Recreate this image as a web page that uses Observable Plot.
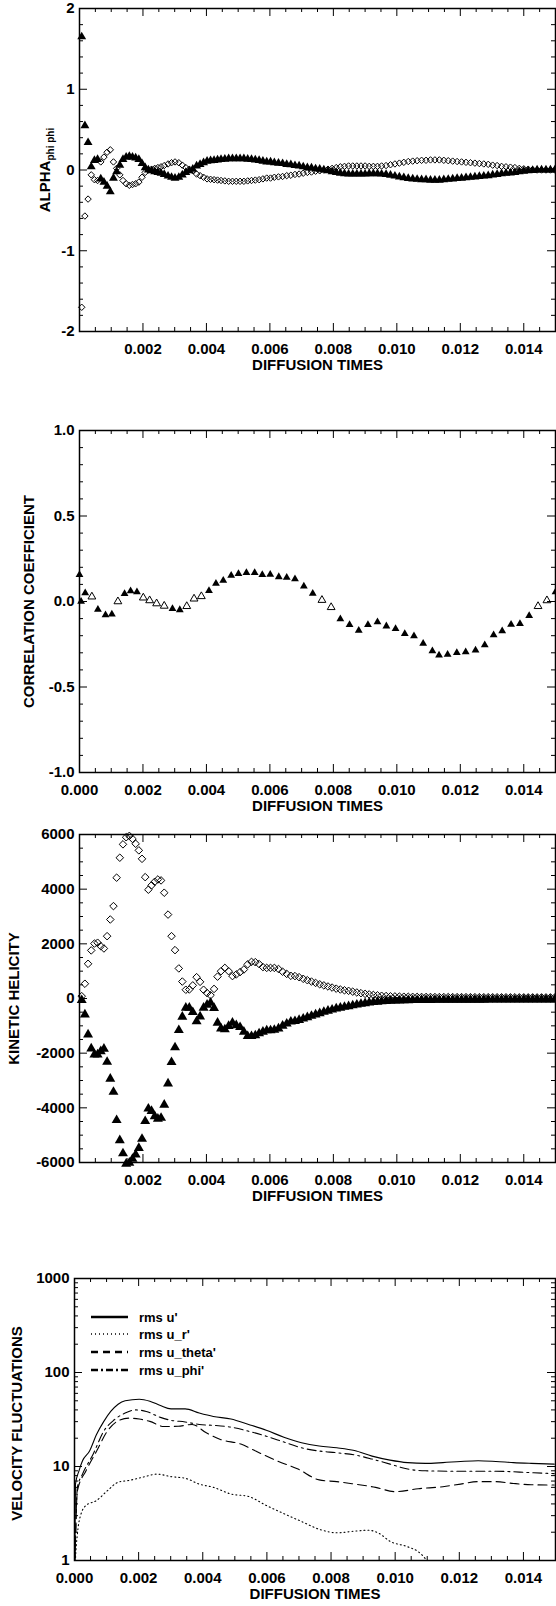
<!DOCTYPE html>
<html><head><meta charset="utf-8">
<script src="https://cdn.jsdelivr.net/npm/d3@7"></script>
<script src="https://cdn.jsdelivr.net/npm/@observablehq/plot@0.6"></script>
<style>
body{margin:0;background:#fff;}
#wrap{position:relative;width:556px;height:1606px;overflow:hidden;}
</style></head><body><div id="wrap"></div>
<script>
// ---------- shared time grid (diffusion times) for panels 1 and 3 ----------
const T = [0.00007,0.00017,0.00027,0.00037,0.00047,0.00057,0.00067,0.00077,0.00087,0.00097,0.00107,0.00117,0.00127,0.00137,0.00147,0.00157,0.00167,0.00177,0.00187,0.00197,0.00207,0.00217,0.00227,0.00237,0.00247,0.00257,
0.00267,0.00279,0.0029,0.00301,0.00313,0.00324,0.00335,0.00346,0.00357,0.00369,0.0038,0.00391,0.00402,0.00413,0.00424,0.00435,0.00446,
0.00458,0.0047,0.00482,0.00494,0.00506,0.00518,0.0053,0.00542,0.00554,0.00566,0.00578,0.0059,0.00602,0.00614,
0.00627,0.0064,0.00653,0.00666,0.00679,0.00692,0.00705,0.00718,0.00731,0.00744,0.00757,0.0077,0.00783,0.00796,0.00809,0.00822,0.00835,0.00848,0.00861,0.00874,0.00887,0.009,0.00913,0.00926,0.00939,0.00952,
0.00966,0.0098,0.00994,0.01008,0.01022,0.01036,0.0105,0.01064,0.01078,0.01092,0.01106,0.0112,0.01134,0.01148,0.01162,0.01176,0.0119,0.01204,0.01218,0.01232,0.01246,0.0126,0.01274,0.01288,0.01302,0.01316,0.0133,0.01344,0.01358,0.01372,0.01386,0.014,0.01414,0.01428,0.01442,0.01456,0.0147,0.01484,0.01498];

// ---------- panel 1: ALPHA phi phi ----------
const alphaDiamond = [-1.7,-0.57,-0.36,-0.06,-0.12,-0.13,0.1,0.16,0.22,0.25,0.1,0.02,-0.06,-0.13,-0.17,-0.19,-0.18,-0.17,-0.15,-0.09,-0.03,0.0,0.01,0.02,0.03,0.04,
0.055,0.075,0.09,0.1,0.09,0.06,0.03,0.01,-0.01,-0.05,-0.07,-0.09,-0.11,-0.115,-0.12,-0.125,-0.13,
-0.135,-0.14,-0.14,-0.14,-0.14,-0.14,-0.135,-0.13,-0.125,-0.12,-0.11,-0.1,-0.1,-0.09,
-0.085,-0.08,-0.07,-0.065,-0.055,-0.05,-0.04,-0.03,-0.025,-0.015,-0.01,0.0,0.01,0.02,0.03,0.04,0.045,0.05,0.05,0.05,0.05,0.05,0.045,0.045,0.045,0.05,
0.055,0.065,0.075,0.085,0.095,0.105,0.11,0.115,0.12,0.12,0.125,0.125,0.125,0.12,0.115,0.11,0.105,0.1,0.095,0.09,0.085,0.08,0.075,0.07,0.06,0.055,0.045,0.04,0.035,0.03,0.02,0.015,0.01,0.005,0.0,0.0,0.0,0.0,0.0];
const alphaTriangle = [1.65,0.55,0.34,0.04,0.12,0.13,-0.11,-0.15,-0.2,-0.27,-0.1,-0.02,0.06,0.13,0.16,0.17,0.16,0.15,0.13,0.08,0.03,0.0,-0.01,-0.02,-0.03,-0.04,
-0.055,-0.075,-0.09,-0.1,-0.09,-0.06,-0.03,-0.01,0.01,0.05,0.07,0.09,0.11,0.115,0.12,0.125,0.13,
0.135,0.14,0.14,0.14,0.14,0.14,0.135,0.13,0.125,0.12,0.11,0.1,0.1,0.09,
0.085,0.08,0.07,0.065,0.055,0.05,0.04,0.03,0.025,0.015,0.01,0.0,-0.01,-0.02,-0.03,-0.04,-0.045,-0.05,-0.05,-0.05,-0.05,-0.05,-0.045,-0.045,-0.045,-0.05,
-0.055,-0.065,-0.075,-0.085,-0.095,-0.105,-0.11,-0.115,-0.12,-0.12,-0.125,-0.125,-0.125,-0.12,-0.115,-0.11,-0.105,-0.1,-0.095,-0.09,-0.085,-0.08,-0.075,-0.07,-0.06,-0.055,-0.045,-0.04,-0.035,-0.03,-0.02,-0.015,-0.01,-0.005,0.0,0.0,0.0,0.0,0.0];

// ---------- panel 2: correlation coefficient ----------
const corrT = [0,0.00005,0.00018,0.00039,0.00058,0.00082,0.00102,0.00121,0.00142,0.00161,0.00181,0.00201,0.00221,0.00243,0.00267,0.00293,0.00316,0.00338,0.00361,0.00384,0.00408,0.0043,0.00453,0.00478,0.00501,0.00526,0.00552,0.00576,0.00601,0.00628,0.00653,0.00679,0.00707,0.00735,0.00764,0.00793,0.00822,0.00851,0.0088,0.00909,0.00939,0.00967,0.00996,0.01025,0.01054,0.01083,0.01112,0.01133,0.0116,0.01189,0.01217,0.01248,0.01277,0.01305,0.01332,0.0136,0.01388,0.01417,0.01445,0.01473,0.015];
const corrV = [0.156,0.0,0.05,0.028,-0.047,-0.079,-0.075,0.0,0.045,0.061,0.055,0.022,0.006,-0.012,-0.026,-0.043,-0.049,-0.028,0.016,0.03,0.063,0.105,0.123,0.152,0.162,0.168,0.168,0.156,0.158,0.144,0.14,0.132,0.089,0.047,0.008,-0.034,-0.103,-0.136,-0.17,-0.136,-0.12,-0.144,-0.16,-0.188,-0.202,-0.245,-0.29,-0.314,-0.31,-0.3,-0.296,-0.285,-0.255,-0.196,-0.172,-0.134,-0.13,-0.083,-0.028,0.006,0.055];
const corrFilled = [1,1,1,0,1,1,1,0,1,1, 1,0,0,0,0,1,1,0,0,0, 1,1,1,1,1,1,1,1,1,1, 1,1,1,1,0,0,1,1,1,1, 1,1,1,1,1,1,1,1,1,1, 1,1,1,1,1,1,1,1,0,0, 1];

// ---------- panel 3: kinetic helicity ----------
const helDiamond = [85,540,1270,1760,2010,2040,1915,1830,2280,2890,3380,4420,5150,5640,5900,5950,5840,5660,5420,5110,4440,3980,4140,4270,4355,4320,
3870,3070,2280,1770,1100,620,320,330,480,780,610,320,200,120,350,800,1000,
1120,1000,820,880,965,1060,1250,1340,1330,1260,1150,1120,1120,1120,
1080,980,900,830,820,780,720,670,620,570,520,480,440,400,360,330,300,280,250,220,195,170,150,130,115,100,
90,80,75,70,65,62,60,58,56,55,54,53,52,52,51,50,50,50,49,48,48,47,46,46,45,45,44,44,43,43,42,42,41,41,40,40,40,40,40];
const helTriangle = [-60,-590,-1320,-1830,-2050,-2050,-1930,-1840,-2320,-2940,-3420,-4450,-5190,-5670,-6050,-6010,-5870,-5710,-5470,-5140,-4490,-4030,-4120,-4310,-4400,-4370,
-3890,-3110,-2330,-1790,-1160,-670,-340,-340,-500,-840,-660,-340,-230,-160,-350,-890,-1100,
-1130,-1010,-890,-980,-1050,-1220,-1380,-1380,-1350,-1280,-1220,-1170,-1170,-1150,
-1100,-1000,-920,-850,-830,-790,-740,-690,-640,-590,-540,-490,-450,-410,-370,-340,-310,-285,-255,-225,-200,-175,-155,-135,-120,-105,
-95,-85,-80,-75,-70,-66,-63,-60,-58,-56,-55,-54,-53,-52,-51,-50,-50,-49,-48,-48,-47,-46,-46,-45,-45,-44,-44,-43,-43,-42,-42,-41,-41,-40,-40,-40,-40,-40,-40];

// ---------- panel 4: velocity fluctuations ----------
const rmsU_t = [0,0.00003,0.00014,0.00025,0.00047,0.00069,0.00091,0.00113,0.00136,0.00158,0.00202,0.00235,0.00268,0.00301,0.00345,0.00389,0.00433,0.00488,0.00543,0.00598,0.00653,0.00708,0.00763,0.00818,0.00873,0.00928,0.00984,0.01039,0.01094,0.01149,0.01204,0.01259,0.01314,0.01369,0.01424,0.01496];
const rmsU = [0.5,6.5,9,11.5,14.6,22,30,38.5,46,50,52,49.5,44.5,41,41,37,34,32,28,24.3,20.5,17.9,16.5,15.8,14.8,12.9,11.7,11,10.8,11,11.3,11.5,11.3,11,10.8,10.6];
const rmsUr_t = [0,0.00003,0.00009,0.0002,0.00036,0.00069,0.00102,0.00136,0.00169,0.00213,0.00257,0.00301,0.00345,0.00389,0.00433,0.00488,0.00543,0.00598,0.00653,0.00708,0.00763,0.00818,0.00873,0.00917,0.0095,0.00984,0.01039,0.01072,0.01099,0.0111];
const rmsUr = [0.3,1.0,1.9,3.1,3.85,4.35,5.5,6.8,7.1,7.7,8.3,7.8,7.5,6.5,6,5.1,4.8,3.85,3.15,2.6,2.15,1.97,2.05,2.1,1.94,1.6,1.4,1.24,1.0,0.9];
const rmsUth_t = [0,0.00009,0.00036,0.00069,0.00102,0.00136,0.00169,0.00202,0.00235,0.00279,0.00323,0.00367,0.00411,0.00455,0.00521,0.00565,0.00631,0.00697,0.00763,0.00818,0.00873,0.00939,0.01,0.01072,0.01149,0.01204,0.01259,0.01314,0.01369,0.01424,0.01496];
const rmsUth = [0.5,5.5,9,14.6,23.7,30.6,32.7,32,30.2,26.6,26.8,28,22.8,19.4,17.2,14.6,11.5,9.4,7.2,6.9,6.5,6,5.4,5.8,6.1,6.5,6.9,6.9,6.6,6.4,6.35];
const rmsUphi_t = [0,0.00009,0.00025,0.00058,0.00091,0.00124,0.00158,0.00191,0.00224,0.00268,0.00301,0.00345,0.00389,0.00433,0.00488,0.00543,0.00598,0.00653,0.00708,0.00763,0.00818,0.00873,0.00928,0.00984,0.01039,0.01094,0.01204,0.01314,0.01424,0.01496];
const rmsUphi = [0.5,6,8.3,13.5,23.7,31.4,37,40,38.5,33.3,31,29.8,28,27.4,26.2,23.7,21,18.2,15.8,14.6,14,13.3,12,10.6,9.4,9,8.9,8.9,8.6,8.4];
const legendLabels = ["rms u'", "rms u_r'", "rms u_theta'", "rms u_phi'"];

// ---------- axis ticks & labels ----------
const xTitle = "DIFFUSION TIMES";
const xMajor = [0,0.002,0.004,0.006,0.008,0.010,0.012,0.014];
const xLabelsNoZero = [0.002,0.004,0.006,0.008,0.010,0.012,0.014];
const xMinor = d3.range(1, 30).map(i => i * 0.0005).filter((v, i) => (i + 1) % 4 !== 0);
const alphaTicks = [-2,-1,0,1,2];
const corrTicks = [-1,-0.5,0,0.5,1];
const helTicks = [-6000,-4000,-2000,0,2000,4000,6000];
const velTicks = [1,10,100,1000];

const wrap = document.getElementById("wrap");
const FONT = '"Liberation Sans", Arial, Helvetica, sans-serif';
const TXT = {fontSize: 15, fontWeight: "bold"};

function panel({top, height, mt, mb, ml = 79, mr = 1, y, yMajor, yMinor, yFmt, xLabels, ylab, ylabDx, ylabDy = 0, marks}) {
  const W = 556 - ml - mr, H = height - mt - mb;
  const all = [
    ...marks,
    Plot.tickX(xMajor, {x: d => d, insetBottom: H - 8, stroke: "black"}),
    Plot.tickX(xMajor, {x: d => d, insetTop: H - 8, stroke: "black"}),
    Plot.tickX(xMinor, {x: d => d, insetBottom: H - 4, stroke: "black"}),
    Plot.tickX(xMinor, {x: d => d, insetTop: H - 4, stroke: "black"}),
    Plot.tickY(yMajor, {y: d => d, insetRight: W - 8, stroke: "black"}),
    Plot.tickY(yMajor, {y: d => d, insetLeft: W - 8, stroke: "black"}),
    Plot.tickY(yMinor, {y: d => d, insetRight: W - 4, stroke: "black"}),
    Plot.tickY(yMinor, {y: d => d, insetLeft: W - 4, stroke: "black"}),
    Plot.frame({stroke: "black", strokeWidth: 1.5}),
    Plot.axisX(xLabels, {tickSize: 0, tickPadding: 12, tickFormat: d3.format(".3f"), label: null, ...TXT}),
    Plot.axisY(yMajor, {tickSize: 0, tickPadding: 5, tickFormat: yFmt, label: null, ...TXT}),
    Plot.text([xTitle], {text: d => d, frameAnchor: "bottom", dy: 34, textAnchor: "middle", lineAnchor: "middle", ...TXT})
  ];
  if (ylab) all.push(Plot.text([ylab], {text: d => d, frameAnchor: "left", dx: ylabDx, dy: ylabDy, rotate: -90, textAnchor: "middle", lineAnchor: "middle", ...TXT}));
  const svg = Plot.plot({
    width: 556, height, marginTop: mt, marginBottom: mb, marginLeft: ml, marginRight: mr,
    x: {domain: [0, 0.015], label: null},
    y: {...y, label: null},
    style: {fontFamily: FONT, fontWeight: "bold", fontSize: "15px", color: "black", background: "transparent", overflow: "visible"},
    marks: all
  });
  svg.style.position = "absolute";
  svg.style.top = top + "px";
  svg.style.left = "0px";
  wrap.appendChild(svg);
  return svg;
}

// Panel 1
const p1 = panel({
  top: 0, height: 392, mt: 8, mb: 61,
  y: {domain: [-2, 2]}, yMajor: alphaTicks, yMinor: d3.range(-20, 21, 2).map(v => v / 10).filter(v => v % 1 !== 0),
  yFmt: d => String(d), xLabels: xLabelsNoZero,
  marks: [
    Plot.dot(T.map((t, i) => ({t, v: alphaDiamond[i]})), {x: "t", y: "v", symbol: "diamond2", r: 2.9, stroke: "black", strokeWidth: 1, fill: "none"}),
    Plot.dot(T.map((t, i) => ({t, v: alphaTriangle[i]})), {x: "t", y: "v", symbol: "triangle", r: 3.3, fill: "black"})
  ]
});
{
  const t = d3.select(p1).append("text")
    .attr("transform", "translate(50,170) rotate(-90)")
    .attr("text-anchor", "middle")
    .style("font-size", "15px").style("font-weight", "bold").style("font-family", FONT);
  t.append("tspan").text("ALPHA");
  t.append("tspan").attr("dy", "0.35em").style("font-size", "10px").text("phi phi");
}

// Panel 2
panel({
  top: 400, height: 418, mt: 30, mb: 46,
  y: {domain: [-1, 1]}, yMajor: corrTicks, yMinor: d3.range(-10, 11).map(v => v / 10).filter(v => Math.abs(v * 2 - Math.round(v * 2)) > 1e-9),
  yFmt: d => d.toFixed(1), xLabels: xMajor,
  ylab: "CORRELATION COEFFICIENT", ylabDx: -50,
  marks: [
    Plot.dot(corrT.map((t, i) => ({t, v: corrV[i], f: corrFilled[i]})).filter(d => !d.f), {x: "t", y: "v", symbol: "triangle", r: 2.9, stroke: "black", strokeWidth: 1, fill: "white"}),
    Plot.dot(corrT.map((t, i) => ({t, v: corrV[i], f: corrFilled[i]})).filter(d => d.f), {x: "t", y: "v", symbol: "triangle", r: 2.9, fill: "black"})
  ]
});

// Panel 3
panel({
  top: 818, height: 392, mt: 16, mb: 48,
  y: {domain: [-6000, 6000]}, yMajor: helTicks, yMinor: d3.range(-6000, 6001, 500).filter(v => v % 2000 !== 0),
  yFmt: d => String(d), xLabels: xLabelsNoZero,
  ylab: "KINETIC HELICITY", ylabDx: -65,
  marks: [
    Plot.dot(T.map((t, i) => ({t, v: helDiamond[i]})), {x: "t", y: "v", symbol: "diamond2", r: 3.4, stroke: "black", strokeWidth: 1, fill: "none"}),
    Plot.dot(T.map((t, i) => ({t, v: helTriangle[i]})), {x: "t", y: "v", symbol: "triangle", r: 3.7, fill: "black"})
  ]
});

// Panel 4
const lineOpts = {x: "t", y: "v", stroke: "black", strokeWidth: 1.1, curve: "monotone-x", clip: true};
const p4 = panel({
  top: 1210, height: 396, mt: 68, mb: 46, ml: 74,
  y: {type: "log", domain: [1, 1000]}, yMajor: velTicks,
  yMinor: [1, 10, 100].flatMap(d => [2,3,4,5,6,7,8,9].map(k => k * d)),
  yFmt: d => String(d), xLabels: xMajor,
  ylab: "VELOCITY FLUCTUATIONS", ylabDx: -57, ylabDy: 4,
  marks: [
    Plot.line(rmsU_t.map((t, i) => ({t, v: rmsU[i]})), {...lineOpts}),
    Plot.line(rmsUr_t.map((t, i) => ({t, v: rmsUr[i]})), {...lineOpts, strokeDasharray: "1,3"}),
    Plot.line(rmsUth_t.map((t, i) => ({t, v: rmsUth[i]})), {...lineOpts, strokeDasharray: "9,5"}),
    Plot.line(rmsUphi_t.map((t, i) => ({t, v: rmsUphi[i]})), {...lineOpts, strokeDasharray: "9,4,2,4"})
  ]
});
{
  const g = d3.select(p4).append("g");
  const styles = [{dash: null, w: 2.5}, {dash: "1,3", w: 1.5}, {dash: "7,5", w: 2.5}, {dash: "7,3,2,3", w: 2.5}];
  const rowY = [107, 124, 142, 160];
  legendLabels.forEach((lab, i) => {
    g.append("line").attr("x1", 91).attr("x2", 128).attr("y1", rowY[i]).attr("y2", rowY[i])
      .attr("stroke", "black").attr("stroke-width", styles[i].w)
      .attr("stroke-dasharray", styles[i].dash);
    g.append("text").attr("x", 139).attr("y", rowY[i]).attr("dy", "0.35em")
      .attr("text-anchor", "start")
      .style("font-size", "13px").style("font-weight", "bold").style("font-family", FONT).text(lab);
  });
}
</script></body></html>
